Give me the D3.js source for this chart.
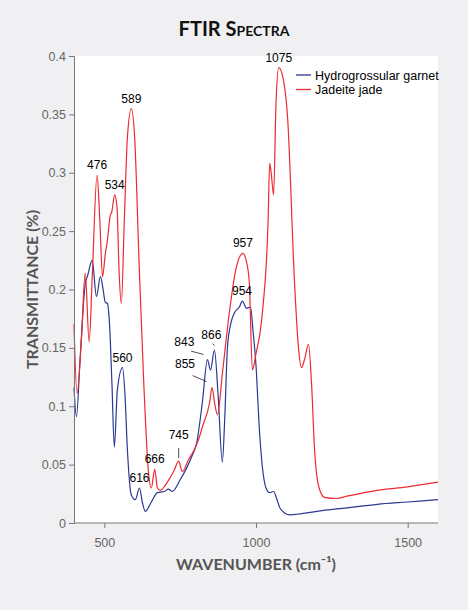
<!DOCTYPE html>
<html><head><meta charset="utf-8">
<script src="https://cdn.jsdelivr.net/npm/d3@7"></script>
<style>body{margin:0;background:#f0f0f2}</style></head>
<body><svg id="c" width="468" height="610"></svg>
<script>
const garnet = [[400,0.116],[408,0.091],[420,0.14],[437,0.205],[445,0.212],[460,0.225],[474,0.194],[487,0.211],[496,0.2],[503,0.189],[510,0.188],[517,0.171],[525,0.12],[533,0.065],[543,0.114],[560,0.133],[568,0.11],[576,0.063],[589,0.024],[602,0.02],[616,0.03],[625,0.018],[635,0.01],[655,0.018],[675,0.026],[698,0.027],[711,0.029],[724,0.027],[750,0.037],[771,0.047],[790,0.058],[804,0.068],[823,0.103],[840,0.14],[850,0.131],[863,0.148],[875,0.11],[889,0.052],[897,0.09],[906,0.151],[918,0.172],[929,0.18],[945,0.185],[955,0.19],[969,0.184],[982,0.185],[990,0.165],[1001,0.131],[1010,0.085],[1021,0.048],[1033,0.03],[1045,0.026],[1058,0.027],[1068,0.021],[1077,0.014],[1092,0.009],[1110,0.007],[1150,0.008],[1200,0.01],[1300,0.013],[1400,0.016],[1500,0.018],[1600,0.02]];
const jade = [[400,0.17],[410,0.111],[425,0.16],[437,0.214],[450,0.155],[460,0.21],[476,0.298],[485,0.26],[494,0.211],[503,0.23],[510,0.242],[520,0.264],[524,0.266],[534,0.281],[542,0.27],[548,0.22],[556,0.188],[566,0.26],[576,0.33],[589,0.355],[600,0.33],[615,0.22],[630,0.12],[645,0.045],[655,0.03],[666,0.046],[675,0.03],[685,0.028],[700,0.032],[715,0.038],[730,0.045],[745,0.053],[757,0.044],[777,0.054],[797,0.063],[810,0.071],[823,0.082],[847,0.103],[855,0.116],[864,0.102],[873,0.093],[890,0.13],[913,0.182],[935,0.219],[957,0.231],[970,0.222],[978,0.206],[988,0.131],[1000,0.145],[1021,0.18],[1040,0.26],[1045,0.308],[1050,0.3],[1058,0.281],[1066,0.36],[1075,0.39],[1090,0.38],[1104,0.348],[1127,0.206],[1140,0.15],[1150,0.133],[1160,0.14],[1173,0.153],[1183,0.12],[1193,0.063],[1208,0.03],[1226,0.022],[1265,0.021],[1300,0.023],[1400,0.028],[1500,0.031],[1600,0.035]];
const peakLabels = [[476,0.298,"476"],[534,0.281,"534"],[589,0.355,"589"],[1075,0.39,"1075"],[957,0.231,"957"],[954,0.19,"954"],[560,0.133,"560"],[616,0.03,"616"],[666,0.046,"666"]];
const leaderLabels = [[745,0.053,"745",0,-22],[843,0.14,"843",-24,-14],[855,0.116,"855",-27,-20],[866,0.148,"866",-4,-11]];
const xTicks = [500,1000,1500];
const yTicks = [0,0.05,0.1,0.15,0.2,0.25,0.3,0.35,0.4];
const seriesNames = ["Hydrogrossular garnet","Jadeite jade"];
const colors = ["#2b3990","#ed2a2f"];

const svg = d3.select("#c");
const L=74,R=438,T=56,B=523;
const x = d3.scaleLinear().domain([400,1600]).range([L,R]);
const y = d3.scaleLinear().domain([0,0.4]).range([B,T]);
svg.append("rect").attr("x",L).attr("y",T).attr("width",R-L).attr("height",B-T).attr("fill","#fff");
const line = d3.line().x(d=>x(d[0])).y(d=>y(d[1])).curve(d3.curveMonotoneX);
[garnet,jade].forEach((s,i)=>svg.append("path").attr("d",line(s)).attr("fill","none").attr("stroke",colors[i]).attr("stroke-width",1.2));

const ax = svg.append("g").attr("transform",`translate(0,${B})`).call(d3.axisBottom(x).tickValues(xTicks).tickSize(5).tickFormat(d3.format("d")));
const ay = svg.append("g").attr("transform",`translate(${L},0)`).call(d3.axisLeft(y).tickValues(yTicks).tickSize(5).tickFormat(d=>d===0?"0":String(d)));
[ax,ay].forEach(a=>{a.selectAll("path,line").attr("stroke","#777");a.selectAll("text").attr("fill","#666").style("font-family","Liberation Sans, Arial").style("font-size","12.5px");});
ax.select(".domain").attr("d",`M${L},0H${R}`);
ax.selectAll("text").attr("dy","1.3em");

const lf = "Liberation Sans, Arial";
peakLabels.forEach(p=>svg.append("text").attr("x",x(p[0])).attr("y",y(p[1])-6).attr("text-anchor","middle").style("font-family",lf).style("font-size","12px").text(p[2]));
leaderLabels.forEach(p=>{
  const px=x(p[0]),py=y(p[1]);
  svg.append("line").attr("x1",px+p[3]*0.2).attr("y1",py-3+ (p[3]?p[4]*0.15:0)).attr("x2",px+p[3]*0.72).attr("y2",py+p[4]*0.6).attr("stroke","#222").attr("stroke-width",0.8);
  svg.append("text").attr("x",px+p[3]).attr("y",py+p[4]).attr("text-anchor","middle").style("font-family",lf).style("font-size","12px").text(p[2]);
});

seriesNames.forEach((n,i)=>{
  const yy=75+i*14.5;
  svg.append("line").attr("x1",296).attr("x2",311).attr("y1",yy).attr("y2",yy).attr("stroke",colors[i]).attr("stroke-width",1.3);
  svg.append("text").attr("x",315).attr("y",yy+4.5).style("font-family",lf).style("font-size","12.5px").text(n);
});

svg.append("text").attr("x",234).attr("y",36).attr("text-anchor","middle").style("font-family","Lato").style("font-weight","bold").style("font-size","20px").style("font-variant","small-caps").attr("fill","#111").text("FTIR Spectra");
svg.append("text").attr("x",256).attr("y",570).attr("text-anchor","middle").style("font-family","Lato").style("font-weight","bold").style("font-size","16px").attr("fill","#555").text("WAVENUMBER (cm⁻¹)");
svg.append("text").attr("transform",`translate(38,${(T+B)/2}) rotate(-90)`).attr("text-anchor","middle").style("font-family","Lato").style("font-weight","bold").style("font-size","16px").attr("fill","#555").text("TRANSMITTANCE (%)");
</script></body></html>
